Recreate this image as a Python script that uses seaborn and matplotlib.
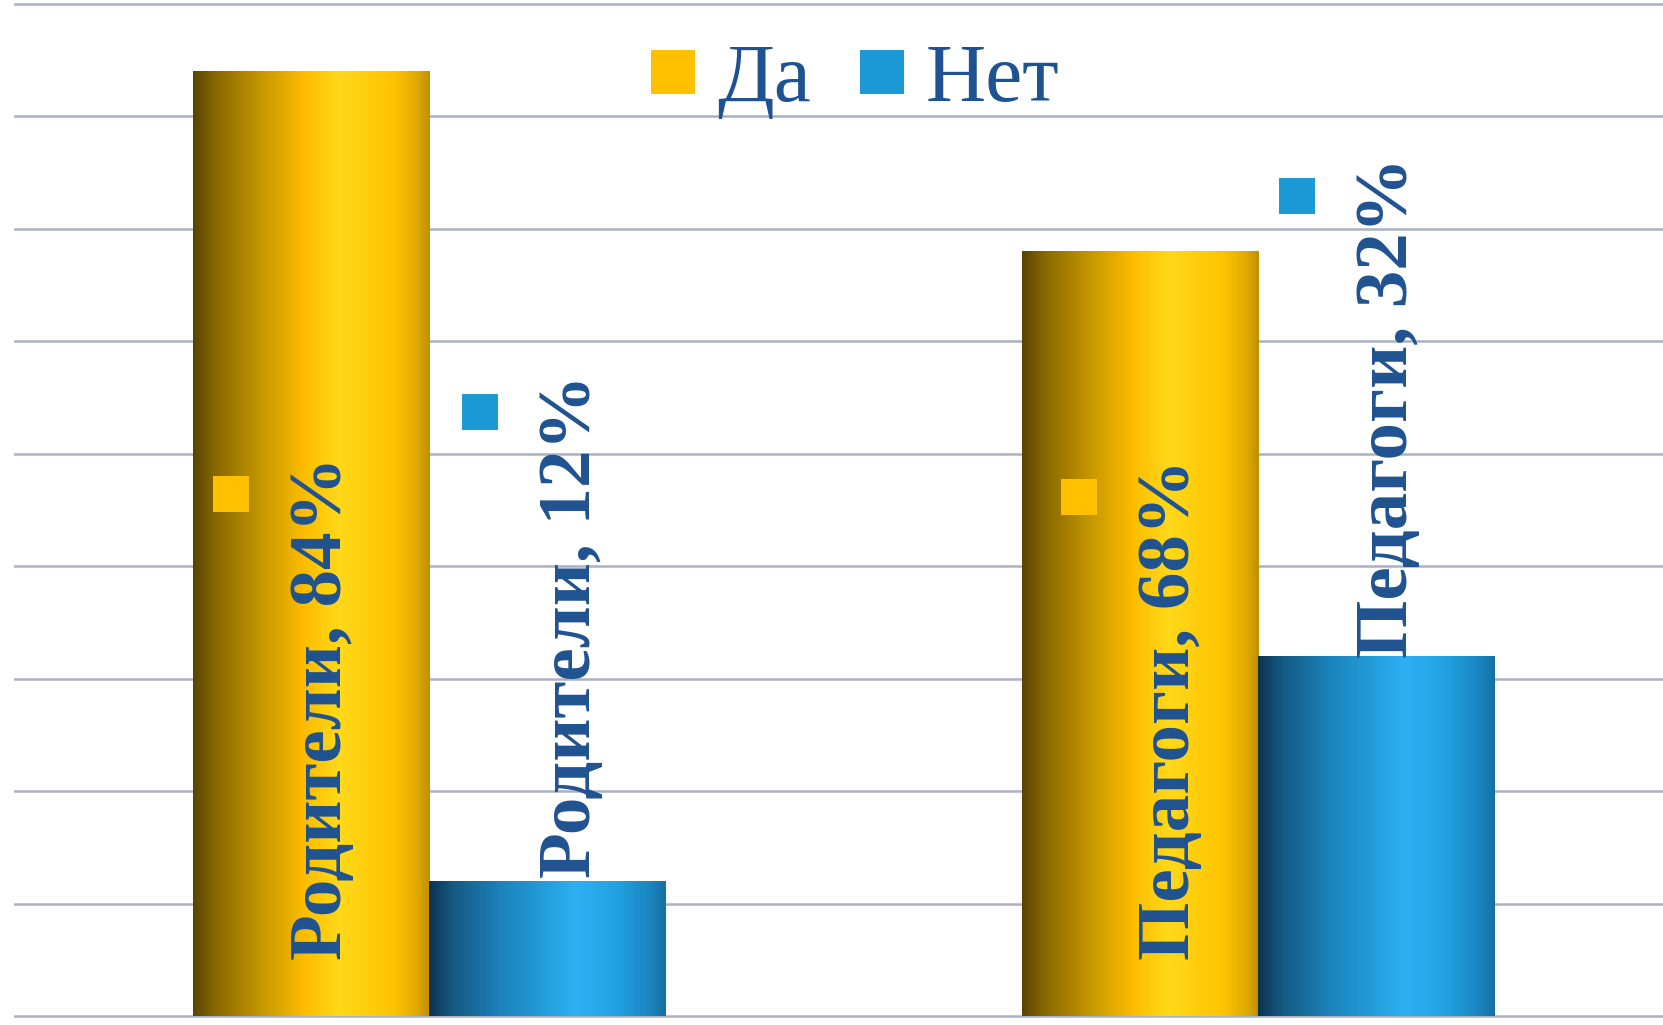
import numpy as np
import pandas as pd
import matplotlib
matplotlib.use("Agg")
import matplotlib.pyplot as plt
import matplotlib.transforms as mtransforms
from matplotlib.colors import LinearSegmentedColormap, to_hex
from matplotlib.lines import Line2D
import seaborn as sns

# ---- data -------------------------------------------------------------
groups = ["Родители", "Педагоги"]
answers = ["Да", "Нет"]
yes_pct = [84, 68]
no_pct = [12, 32]

# ---- style ------------------------------------------------------------
yes_color = "#FFC000"
no_color = "#1B9AD6"
text_color = "#1F5290"
grid_color = "#A9B1C6"

gold_cmap = LinearSegmentedColormap.from_list("gold", [
    (0.00, "#5A4400"), (0.10, "#8A6A00"), (0.30, "#C99A00"), (0.47, "#FDBD00"),
    (0.62, "#FFD91A"), (0.85, "#FFC300"), (0.95, "#E0A900"), (1.00, "#BF9000")])
blue_cmap = LinearSegmentedColormap.from_list("blue", [
    (0.00, "#0C3350"), (0.10, "#155A82"), (0.30, "#1B82BA"), (0.50, "#24A0DD"),
    (0.62, "#2DB1F3"), (0.80, "#22A1E1"), (0.94, "#1A84BE"), (1.00, "#1670A2")])

df = pd.DataFrame({
    "group": groups * 2,
    "answer": [answers[0]] * len(groups) + [answers[1]] * len(groups),
    "pct": yes_pct + no_pct,
})

sns.set_theme(style="white")
plt.rcParams["font.family"] = ["Liberation Serif", "DejaVu Serif"]

W, H, DPI = 1663, 1025, 100
fig = plt.figure(figsize=(W / DPI, H / DPI), dpi=DPI)
ax = fig.add_axes([14 / W, 0, 1 - 14 / W, 1])

sns.barplot(data=df, x="group", y="pct", hue="answer", order=groups,
            hue_order=answers, palette=[yes_color, no_color], saturation=1,
            width=0.57, legend=False, ax=ax, zorder=2, linewidth=0)

# horizontal gradient fill for each bar
grad = np.linspace(0, 1, 256).reshape(1, -1)
bars = []
for p in list(ax.patches):
    if p.get_height() <= 0:
        continue
    is_yes = to_hex(p.get_facecolor()).lower() == yes_color.lower()
    x0, y0, w, h = p.get_x(), p.get_y(), p.get_width(), p.get_height()
    im = ax.imshow(grad, extent=(x0, x0 + w, y0, y0 + h), aspect="auto",
                   cmap=gold_cmap if is_yes else blue_cmap,
                   interpolation="bilinear", zorder=2.1)
    im.set_clip_path(p)
    bars.append((p, is_yes))

# axes frame and gridlines
ax.set_xlim(-0.5015, 1.489)
ax.set_ylim(-0.8, 90.356)
ax.set_yticks(range(0, 91, 10))
ax.yaxis.grid(True, color=grid_color, lw=1.8)
ax.xaxis.grid(False)
ax.set_axisbelow(True)
for s in ax.spines.values():
    s.set_visible(False)
ax.tick_params(left=False, bottom=False, labelleft=False, labelbottom=False)
ax.set_xlabel("")
ax.set_ylabel("")

# data labels: rotated text with a small legend key
label_dx_px = {("Родители", "Да"): 12, ("Родители", "Нет"): 24,
               ("Педагоги", "Да"): 31, ("Педагоги", "Нет"): 13}
label_dy = {("Родители", "Да"): 0.0, ("Родители", "Нет"): 0.3,
            ("Педагоги", "Да"): 0.0, ("Педагоги", "Нет"): -0.2}
values = {"Да": yes_pct, "Нет": no_pct}
texts = []
for ans in answers:
    for gi, g in enumerate(groups):
        val = values[ans][gi]
        patch = [p for p, y in bars if y == (ans == "Да")][gi]
        xc = patch.get_x() + patch.get_width() / 2
        ybase = (5.0 if ans == "Да" else val) + label_dy[(g, ans)]
        tr = mtransforms.offset_copy(ax.transData, fig=fig,
                                     x=label_dx_px[(g, ans)], y=0, units="dots")
        t = ax.text(xc, ybase, f"{g}, {val}%", rotation=90, ha="center",
                    va="bottom", fontsize=54, fontweight="bold",
                    color=text_color, transform=tr, zorder=5)
        texts.append((t, ans))

fig.canvas.draw()
renderer = fig.canvas.get_renderer()
inv = ax.transData.inverted()
for t, ans in texts:
    bb = t.get_window_extent(renderer)
    cx = (bb.x0 + bb.x1) / 2 - 92
    cy = bb.y1 - 38
    dx, dy = inv.transform((cx, cy))
    ax.plot([dx], [dy], ls="none", marker="s", markersize=26.6,
            markerfacecolor=yes_color if ans == "Да" else no_color,
            markeredgewidth=0, zorder=5)

# legend
handles = [Line2D([], [], ls="none", marker="s", markersize=31,
                  markerfacecolor=c, markeredgewidth=0)
           for c in (yes_color, no_color)]
fig.legend(handles, answers, loc="center", bbox_to_anchor=(0.514, 0.921),
           ncol=2, frameon=False, fontsize=60, handlelength=0.55,
           handletextpad=0.25, columnspacing=0.58, labelcolor=text_color)

fig.savefig("out.png", dpi=DPI)
